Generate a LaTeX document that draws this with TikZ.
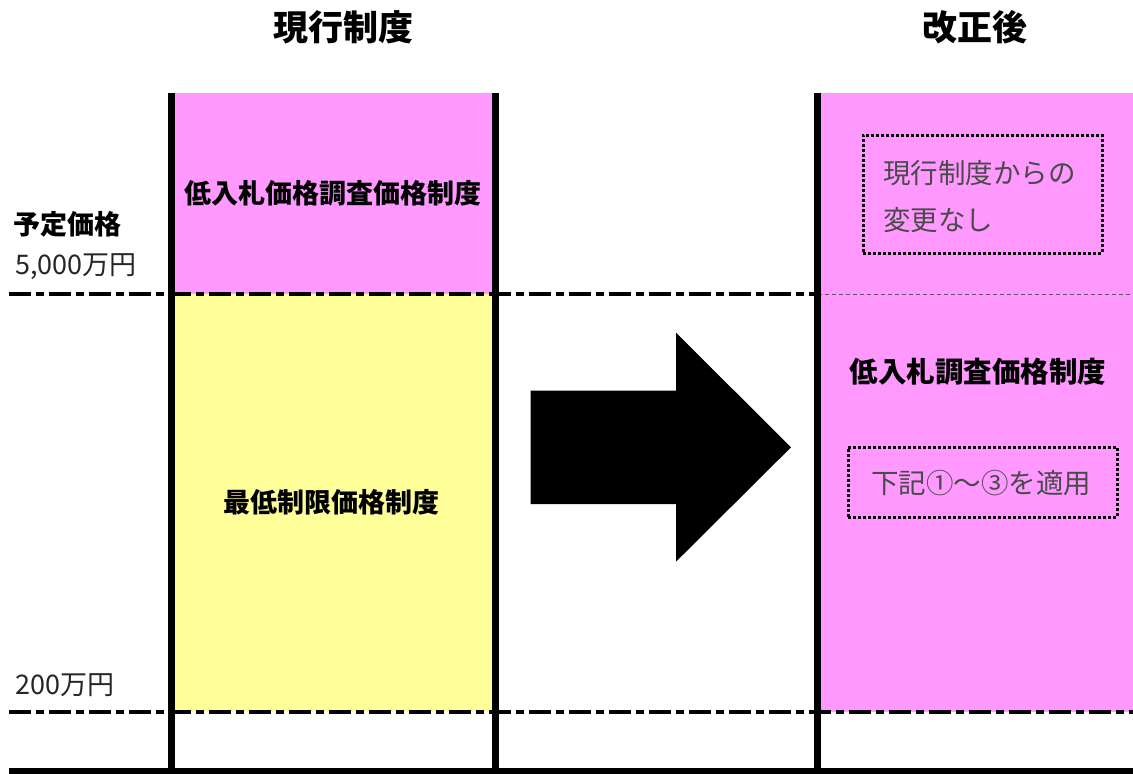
\documentclass[tikz,border=0pt]{standalone}
\usepackage{fontspec}
\setmainfont{Noto Sans CJK JP}
\definecolor{mag}{HTML}{FF99FF}
\definecolor{yel}{HTML}{FFFF99}
\definecolor{txtgray}{HTML}{4A4A4A}
\begin{document}
\begin{tikzpicture}[x=1pt,y=-1pt,
  bold/.style={font=\fontsize{27}{32}\selectfont\bfseries, inner sep=0pt},
  title/.style={font=\fontsize{35}{42}\selectfont\bfseries, inner sep=0pt},
  plain/.style={font=\fontsize{27}{32}\selectfont, text=black!85, inner sep=0pt},
  note/.style={font=\fontsize{27.5}{32}\selectfont, text=txtgray, inner sep=0pt},
  heavydash/.style={line width=4pt, dash pattern=on 22pt off 5pt on 8pt off 5pt},
  vline/.style={line width=7pt},
  dotbox/.style={draw, line width=3pt, dash pattern=on 3pt off 2pt, inner sep=0pt}]
\useasboundingbox (0,0) rectangle (1133,774);
% fills
\fill[mag] (171.7,93) rectangle (495,294);
\fill[yel] (171.7,294) rectangle (495,712);
\fill[mag] (817.5,93) rectangle (1133,712);
% horizontal dashed lines
\coordinate (d1a) at (9,294);
\coordinate (d1b) at (817.5,294);
\coordinate (d1c) at (1133,294);
\coordinate (d2a) at (9,712);
\coordinate (d2b) at (1133,712);
\draw[heavydash] (d1a) -- (d1b);
\draw[line width=1pt, gray!70!black, dash pattern=on 4pt off 3pt] (d1b) -- (d1c);
\draw[heavydash] (d2a) -- (d2b);
% vertical lines
\coordinate (v1t) at (171.7,93); \coordinate (v1b) at (171.7,771);
\coordinate (v2t) at (495,93);   \coordinate (v2b) at (495,771);
\coordinate (v3t) at (817.5,93); \coordinate (v3b) at (817.5,771);
\draw[vline] (v1t) -- (v1b);
\draw[vline] (v2t) -- (v2b);
\draw[vline] (v3t) -- (v3b);
% bottom line
\coordinate (b1) at (9,771); \coordinate (b2) at (1133,771);
\draw[line width=6pt] (b1) -- (b2);
% big arrow
\fill (530.7,390.7) -- (676,390.7) -- (676,332.7) -- (791,447.3) -- (676,561.7) -- (676,504) -- (530.7,504) -- cycle;
% titles
\node[title] (t1) at (343,27) {現行制度};
\node[title] (t2) at (975,27) {改正後};
% left labels
\node[bold, anchor=west] (yotei) at (13,224) {予定価格};
\node[plain, anchor=west] (p5000) at (15,267) {5,000万円};
\node[plain, anchor=west] (p200) at (15,685) {200万円};
% box labels
\node[bold] (l1) at (333,193) {低入札価格調査価格制度};
\node[bold] (l2) at (331,502) {最低制限価格制度};
\node[bold, font=\fontsize{28.5}{34}\selectfont\bfseries] (l3) at (978,372) {低入札調査価格制度};
% dotted boxes
\node[dotbox, minimum width=239pt, minimum height=118pt] (db1) at (982.5,194) {};
\node[note, anchor=west] (n1) at (883,173) {現行制度からの};
\node[note, anchor=west] (n2) at (883,220) {変更なし};
\node[dotbox, minimum width=269pt, minimum height=70pt] (db2) at (982.5,482) {};
\node[note] (n3) at (981,483) {下記①～③を適用};
\end{tikzpicture}
\end{document}
